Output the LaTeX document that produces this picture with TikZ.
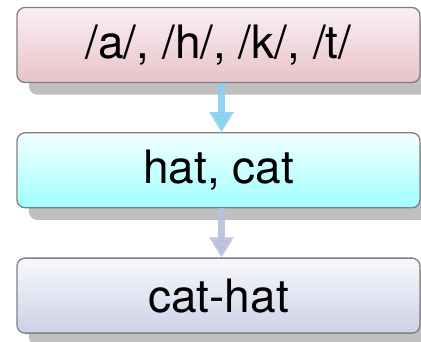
\documentclass[tikz,border=0pt]{standalone}
\usepackage{fontspec}
\setmainfont{TeX Gyre Heros}
\usetikzlibrary{positioning,shadows,arrows.meta}
\definecolor{pinktop}{HTML}{FAF0F3}
\definecolor{pinkbot}{HTML}{E8C2CA}
\definecolor{cyantop}{HTML}{F2FFFF}
\definecolor{cyanbot}{HTML}{A0FFFF}
\definecolor{greytop}{HTML}{F8F8FC}
\definecolor{greybot}{HTML}{CCD1E6}
\definecolor{arrowblue}{HTML}{87D0F0}
\definecolor{arrowgrey}{HTML}{B8C0DA}
\tikzset{
  stagebox/.style={draw=black!50, line width=1.3pt, rounded corners=8pt,
    minimum width=403pt, minimum height=75pt,
    font=\fontsize{46}{50}\selectfont,
    drop shadow={shadow xshift=12pt, shadow yshift=-12pt, fill=black!25, opacity=1}},
  flow/.style={line width=7.5pt, -{Triangle[width=23pt,length=20pt]}}
}
\begin{document}
\begin{tikzpicture}
\useasboundingbox (0,0) rectangle (421pt,-341pt);
\node[stagebox, top color=pinktop, bottom color=pinkbot] (sounds) at (218.5pt,-45pt) {/a/, /h/, /k/, /t/};
\node[stagebox, top color=cyantop, bottom color=cyanbot, below=49pt of sounds] (words) {hat, cat};
\node[stagebox, top color=greytop, bottom color=greybot, below=49pt of words] (compound) {cat-hat};
\draw[flow, arrowblue, opacity=.9] ([xshift=3pt]sounds.south) -- ([xshift=3pt]words.north);
\draw[flow, arrowgrey, opacity=.9] ([xshift=3pt]words.south) -- ([xshift=3pt]compound.north);
\end{tikzpicture}
\end{document}
